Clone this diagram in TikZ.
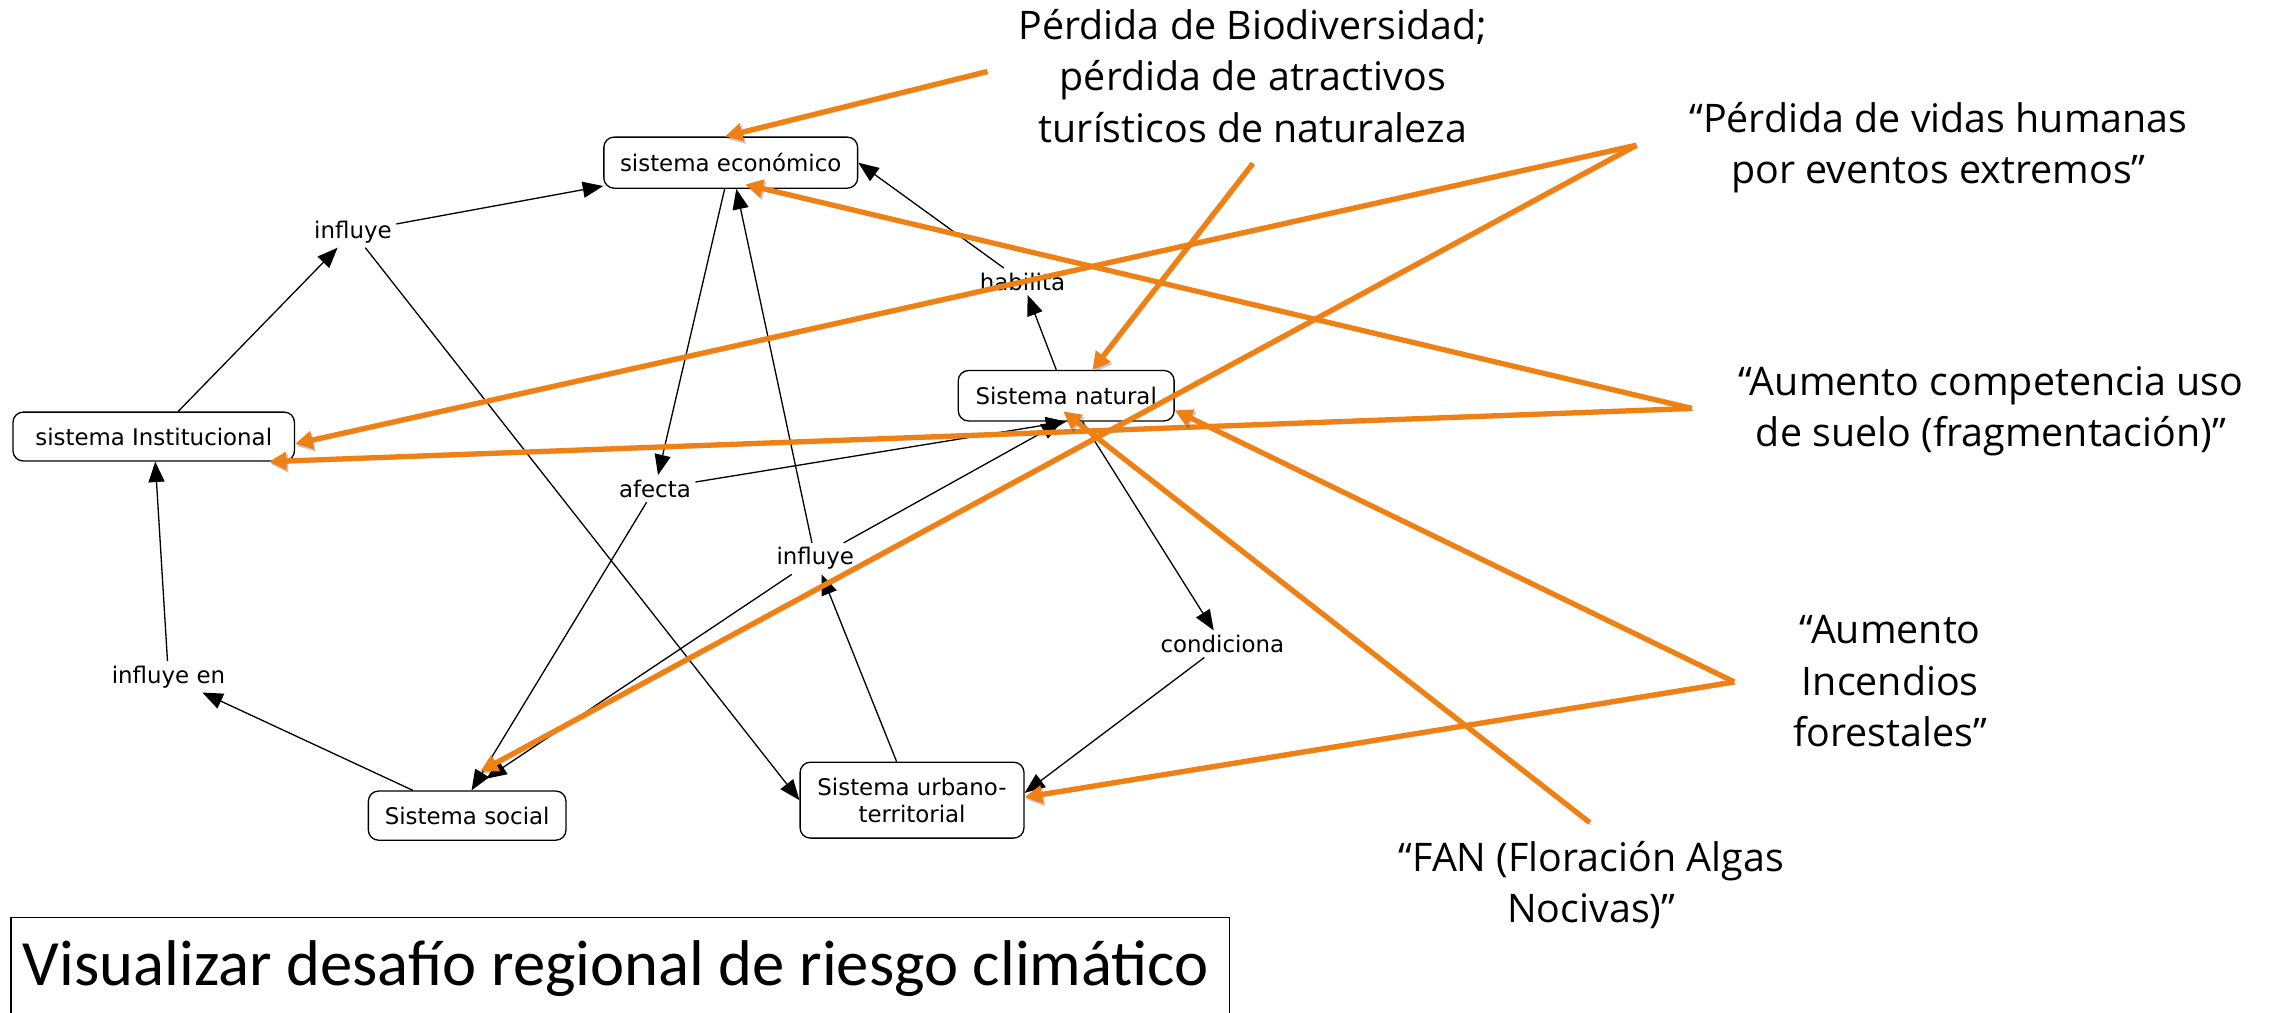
\documentclass[tikz,border=0pt]{standalone}
\usepackage{fontspec}
\setmainfont{DejaVu Sans}
\newfontfamily\mapfont{DejaVu Sans}
\newfontfamily\labfont{Open Sans}
\newfontfamily\titfont{Carlito}
\usetikzlibrary{arrows.meta}
\definecolor{orng}{RGB}{238,128,20}
\tikzset{
  concept/.style={draw, fill=white, rounded corners=7pt, line width=0.9pt,
    font=\mapfont\fontsize{15.7}{18.3}\selectfont, align=center, inner sep=0pt},
  phrase/.style={font=\mapfont\fontsize{15.7}{18.3}\selectfont, inner sep=3pt},
  link/.style={line width=0.9pt, -{Triangle[length=14pt,width=11pt]}},
  warn/.style={draw=orng, line width=3.6pt, -{Triangle[length=12pt,width=12pt]},
    preaction={draw=black, opacity=0.22, transform canvas={shift={(1.2pt,-1.6pt)}}}},
  risk/.style={font=\labfont\fontsize{27}{35.2}\selectfont, align=center, inner sep=0pt},
}
\begin{document}
\begin{tikzpicture}[x=1pt,y=-1pt]
\useasboundingbox (0,0) rectangle (1568,694);
\fill[white] (0,0) rectangle (1568,694);

% concepts
\node[concept, minimum width=174pt, minimum height=35pt] (econ) at (501,111.5) {sistema económico};
\node[concept, minimum width=193pt, minimum height=33.5pt] (inst) at (105.4,299.3) {sistema Institucional};
\node[concept, minimum width=148pt, minimum height=34.6pt] (nat) at (731,271.3) {Sistema natural};
\node[concept, minimum width=135.5pt, minimum height=33.7pt] (soc) at (320.3,559.2) {Sistema social};
\node[concept, minimum width=153.5pt, minimum height=52pt] (urb) at (625.3,548.6) {Sistema urbano-\\territorial};

% linking phrases
\node[phrase] (inf1) at (242,159) {influye};
\node[phrase] (hab) at (701,193) {habilita};
\node[phrase] (afe) at (449,335) {afecta};
\node[phrase] (inf2) at (559,383) {influye};
\node[phrase] (cond) at (838,441.5) {condiciona};
\node[phrase] (infen) at (115.5,464) {influye en};

% black connectors
\draw[link] (inst) -- (inf1);
\draw[link] (inf1) -- (econ);
\draw[link] (inf1) -- (urb.west);
\draw[link] (econ) -- (afe);
\draw[link] (afe) -- (nat.south);
\draw[link] (afe) -- ([xshift=3pt]soc.north);
\draw[link] (urb) -- (inf2);
\draw[link] (inf2) -- (econ);
\draw[link] (inf2) -- ([xshift=13pt,yshift=8pt]soc.north);
\draw[link] (inf2) -- ([xshift=-3pt]nat.south);
\draw[link] (nat) -- (hab);
\draw[link] (hab) -- (econ.east);
\draw[link] (nat) -- (cond);
\draw[link] (cond) -- ([yshift=5pt]urb.east);
\draw[link] (soc) -- (infen);
\draw[link] (infen) -- (inst);

% risk labels
\node[risk] (tA) at (859,52) {Pérdida de Biodiversidad;\\pérdida de atractivos\\turísticos de naturaleza};
\node[risk] (tB) at (1329,101) {“Pérdida de vidas humanas\\por eventos extremos”};
\node[risk] (tC) at (1365,282) {“Aumento competencia uso\\de suelo (fragmentación)”};
\node[risk] (tD) at (1296,467) {“Aumento\\Incendios\\forestales”};
\node[risk] (tE) at (1091,607) {“FAN (Floración Algas\\Nocivas)”};

% sources of orange arrows
\coordinate (sA1) at (677,49);
\coordinate (sA2) at (859,112);
\coordinate (sB) at (1122,99.5);
\coordinate (sC) at (1160,280);
\coordinate (sD) at (1189,467.5);
\coordinate (sE) at (1090,564);

% orange arrows
\draw[warn] (sA1) -- ([xshift=-4pt]econ.north);
\draw[warn] (sA2) -- ([xshift=18pt]nat.north);
\draw[warn] (sB) -- ([yshift=-5pt]inst.east);
\draw[warn] (sB) -- ([xshift=9pt,yshift=13pt]soc.north);
\draw[warn] (sC) -- ([xshift=10pt,yshift=3pt]econ.south);
\draw[warn] (sC) -- ([xshift=-18pt]inst.south east);
\draw[warn] (sD) -- ([yshift=-10pt]nat.east);
\draw[warn] (sD) -- ([yshift=2pt]urb.east);
\draw[warn] (sE) -- ([xshift=-2pt,yshift=7pt]nat.south);

% title box
\draw[line width=0.9pt] (7.5,700) -- (7.5,629) -- (843,629) -- (843,700);
\node[anchor=base west, inner sep=0pt, font=\titfont\fontsize{44.3}{52}\selectfont] (title) at (15.5,676) {Visualizar desafío regional de riesgo climático};
\end{tikzpicture}
\end{document}
